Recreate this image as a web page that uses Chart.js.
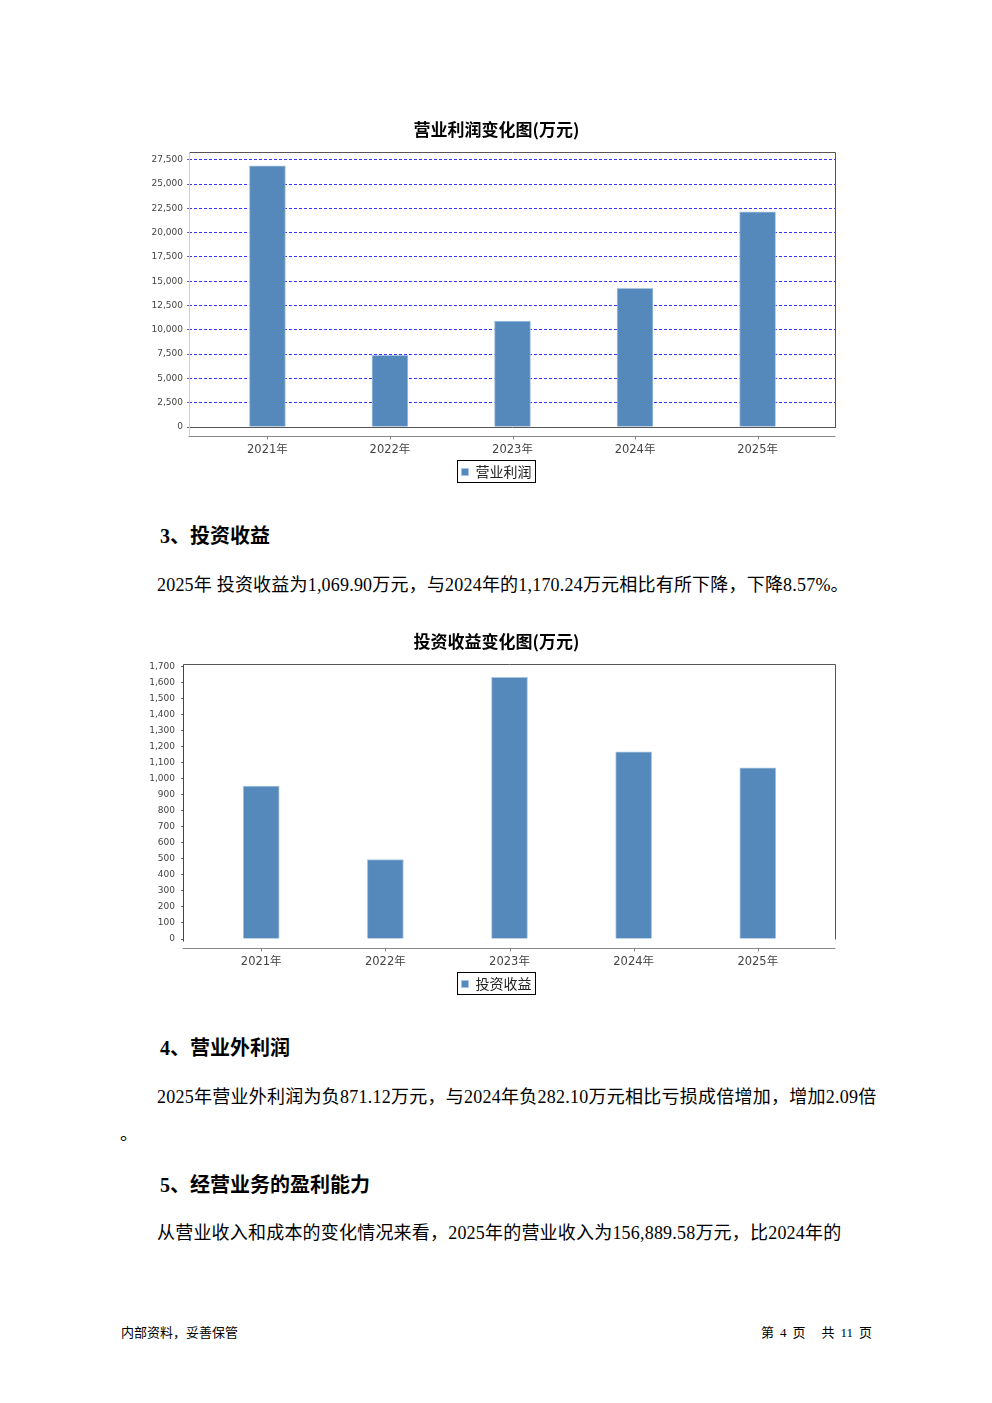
<!DOCTYPE html>
<html lang="zh-CN">
<head>
<meta charset="utf-8">
<title>营业利润 / 投资收益</title>
<script src="https://cdn.jsdelivr.net/npm/chart.js@4.4.1/dist/chart.umd.min.js"></script>
<style>
html, body { margin: 0; padding: 0; background: #fff; }
body { width: 992px; height: 1403px; position: relative; overflow: hidden;
       font-family: "Liberation Serif", "Noto Sans CJK SC", serif; color: #000; }
canvas.chart { position: absolute; left: 140px; }
.h { position: absolute; left: 160px; font-size: 20px; font-weight: bold; line-height: 24px; white-space: nowrap; }
.p { position: absolute; left: 157px; font-size: 18px; line-height: 24px; white-space: nowrap; letter-spacing: 0.2px; }
.foot { position: absolute; top: 1325px; font-size: 13px; line-height: 16px; white-space: nowrap; }
.foot span { margin: 0 6px; }
</style>
</head>
<body>

<canvas id="profitChart" class="chart" width="713" height="379" style="top:110px"></canvas>

<div class="h" style="top:524px">3、投资收益</div>
<div class="p" style="top:573px">2025年 投资收益为1,069.90万元，与2024年的1,170.24万元相比有所下降，下降8.57%。</div>

<canvas id="investChart" class="chart" width="713" height="379" style="top:622px"></canvas>

<div class="h" style="top:1036px">4、营业外利润</div>
<div class="p" style="top:1085px;letter-spacing:0.25px">2025年营业外利润为负871.12万元，与2024年负282.10万元相比亏损成倍增加，增加2.09倍</div>
<div class="p" style="top:1122px;left:120px">。</div>
<div class="h" style="top:1173px">5、经营业务的盈利能力</div>
<div class="p" style="top:1221px">从营业收入和成本的变化情况来看，2025年的营业收入为156,889.58万元，比2024年的</div>

<div class="foot" style="left:121px">内部资料，妥善保管</div>
<div class="foot" style="right:120px">第<span>4</span>页<span style="margin-right:10px"></span>共<span>11</span>页</div>

<script>
// data
var years = ['2021年', '2022年', '2023年', '2024年', '2025年'];
var profitValues = [26880, 7370, 10900, 14260, 22150];
var investValues = [955, 497, 1635, 1170.24, 1069.90];
var profitStep = 2500;
var investStep = 100;

var barBlue = '#5589bb';
var barEdge = '#a8c4e0';

// plot frame, offset category axis and the boxed legend (JFreeChart look)
var framePlugin = {
    id: 'frame',
    afterDatasetsDraw: function(chart, args, opts) {
        var a = chart.chartArea, ctx = chart.ctx;
        var l = Math.round(a.left) + 0.5, r = Math.round(a.right) - 0.5;
        var t = Math.round(a.top) + 0.5, b = Math.round(a.bottom) + 0.5;
        ctx.save();
        ctx.lineWidth = 1;
        ctx.strokeStyle = '#555';
        ctx.beginPath();
        ctx.moveTo(l, t); ctx.lineTo(r, t); ctx.lineTo(r, b);
        if (opts.bottom) ctx.lineTo(l, b);
        ctx.stroke();

        ctx.strokeStyle = opts.leftColor;
        ctx.beginPath(); ctx.moveTo(l, t); ctx.lineTo(l, b + opts.leftExtra); ctx.stroke();

        var ay = b + opts.axisGap;
        var xs = chart.scales.x;
        ctx.strokeStyle = '#888';
        ctx.beginPath();
        ctx.moveTo(l - 1, ay); ctx.lineTo(r, ay);
        years.forEach(function(y, i) {
            var px = Math.round(xs.getPixelForValue(i)) + 0.5;
            ctx.moveTo(px, ay); ctx.lineTo(px, ay + 3);
        });
        ctx.stroke();

        var hb = chart.legend && chart.legend.legendHitBoxes[0];
        if (hb) {
            ctx.strokeStyle = '#000';
            ctx.strokeRect(Math.round(hb.left) - 4.5, Math.round(hb.top) - 4.5,
                           Math.round(hb.width) + 8, Math.round(hb.height) + 8);
        }
        ctx.restore();
    }
};

function makeChart(id, title, label, values, yMax, step, yWidth, xPad, opt) {
    var canvas = document.getElementById(id);
    return new Chart(canvas, {
        type: 'bar',
        data: {
            datasets: [{
                label: label,
                data: values.map(function(v, i) { return { x: i, y: v }; }),
                backgroundColor: barBlue,
                borderColor: barEdge,
                borderWidth: 1,
                barThickness: 36
            }]
        },
        plugins: [framePlugin],
        options: {
            responsive: false,
            animation: false,
            locale: 'en-US',
            layout: { padding: 0 },
            scales: {
                x: {
                    type: 'linear', min: -xPad, max: years.length - 1 + xPad, offset: false,
                    afterBuildTicks: function(s) { s.ticks = years.map(function(y, i) { return { value: i }; }); },
                    afterFit: function(s) { s.height = 35; },
                    ticks: {
                        autoSkip: false, maxRotation: 0, padding: 16, color: '#444',
                        font: { family: '"DejaVu Sans", "Noto Sans CJK SC"', size: 11.5 },
                        callback: function(v) { return years[v]; }
                    },
                    grid: { display: false, drawTicks: false },
                    border: { display: false }
                },
                y: {
                    min: 0, max: yMax,
                    afterBuildTicks: function(s) {
                        var t = [];
                        for (var v = 0; v <= yMax; v += step) t.push({ value: v });
                        s.ticks = t;
                    },
                    afterFit: function(s) { s.width = yWidth; },
                    ticks: {
                        padding: opt.tickPad, color: '#444',
                        font: { family: '"DejaVu Sans"', size: 9 }
                    },
                    grid: { color: '#3535ff', drawOnChartArea: opt.grid, tickLength: 2, tickColor: '#666' },
                    border: { display: false, dash: [3, 2] }
                },
                // empty strip on the right so the title and legend sit where the report has them
                yRight: {
                    position: 'right', display: true,
                    afterFit: function(s) { s.width = 17; },
                    ticks: { display: false },
                    grid: { display: false, drawTicks: false },
                    border: { display: false }
                }
            },
            plugins: {
                title: {
                    display: true, text: title, color: '#000',
                    font: { family: '"Noto Sans CJK SC"', size: 17, weight: 'bold' },
                    padding: { top: 9, bottom: opt.titleGap }
                },
                legend: {
                    position: 'bottom',
                    labels: {
                        boxWidth: 7, boxHeight: 7, padding: 3, color: '#222',
                        font: { family: '"Noto Sans CJK SC"', size: 14 }
                    }
                },
                tooltip: { enabled: false },
                frame: opt.frame
            }
        }
    });
}

makeChart('profitChart', '营业利润变化图(万元)', '营业利润', profitValues, 28300, profitStep, 49, 0.64, {
    grid: true, tickPad: 4, titleGap: 12.6,
    frame: { bottom: true, leftColor: '#cfcfcf', leftExtra: 8, axisGap: 9 }
});

makeChart('investChart', '投资收益变化图(万元)', '投资收益', investValues, 1716, investStep, 43, 0.63, {
    grid: false, tickPad: 6, titleGap: 13,
    frame: { bottom: false, leftColor: '#444', leftExtra: 2, axisGap: 9 }
});
</script>
</body>
</html>
